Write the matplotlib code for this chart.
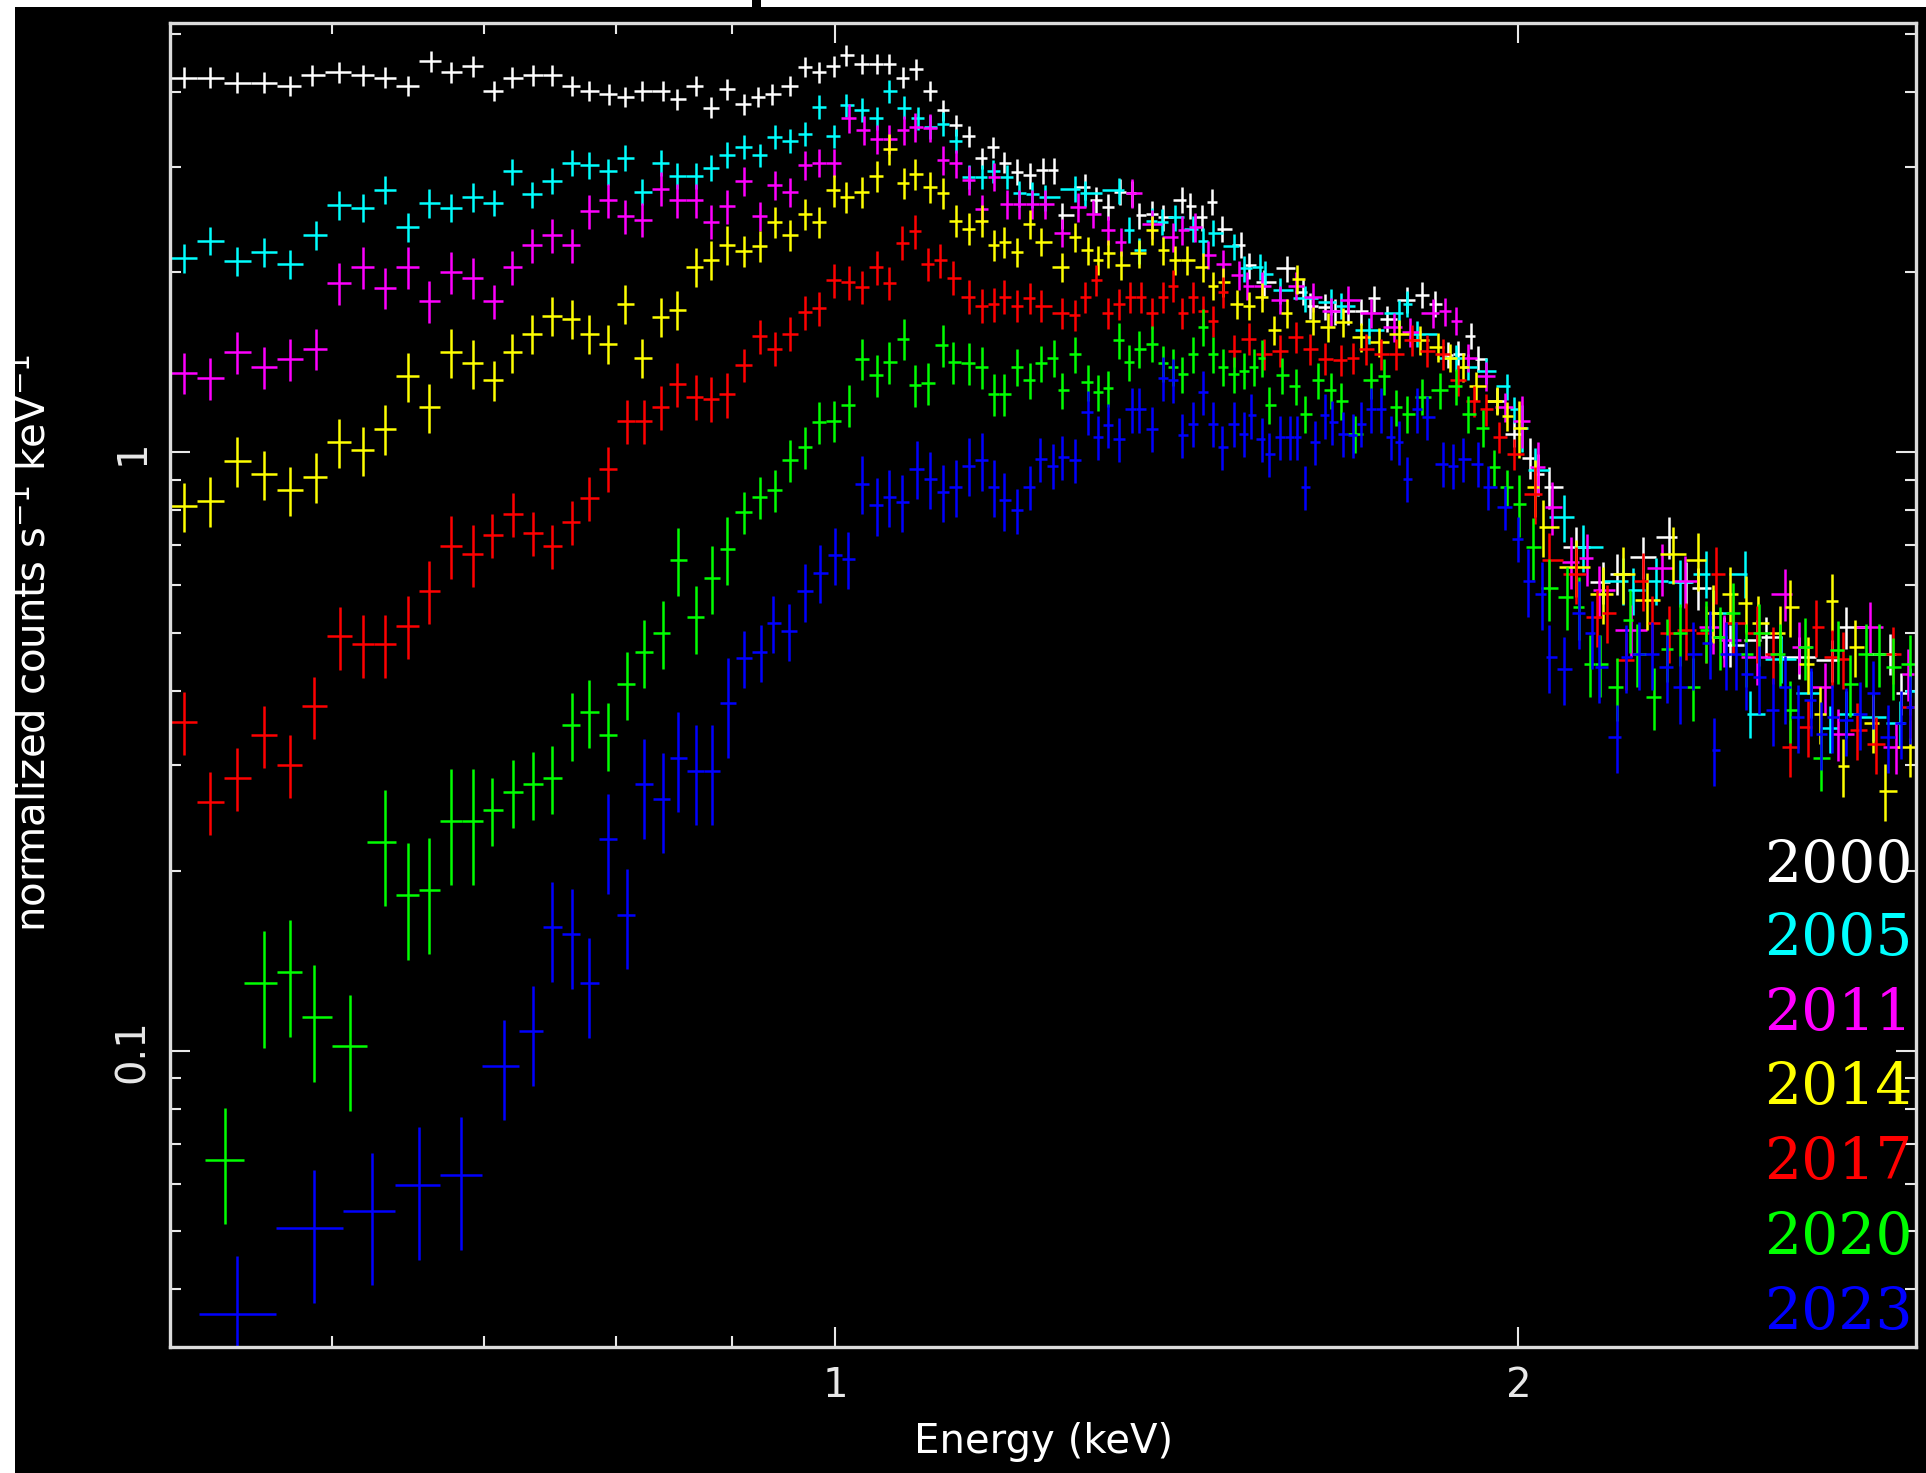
import numpy as np
import matplotlib
matplotlib.use('Agg')
import matplotlib.pyplot as plt
from matplotlib.patches import Rectangle
from matplotlib.ticker import FixedLocator, NullFormatter

plt.rcParams['font.family'] = ['DejaVu Sans']

# energies (keV) and normalized counts s^-1 keV^-1
white_e = [0.516, 0.530, 0.545, 0.560, 0.575, 0.588, 0.604, 0.619, 0.633, 0.648,
           0.663, 0.677, 0.692, 0.707, 0.720, 0.736, 0.750, 0.765, 0.779, 0.795,
           0.808, 0.822, 0.839, 0.851, 0.868, 0.881, 0.896, 0.911, 0.924, 0.938,
           0.955, 0.970, 0.983, 0.998, 1.011, 1.027, 1.043, 1.056, 1.071, 1.085,
           1.101, 1.115, 1.130, 1.145, 1.160, 1.173, 1.187, 1.202, 1.218, 1.234,
           1.248, 1.259, 1.288, 1.302, 1.319, 1.335, 1.351, 1.361, 1.379, 1.395,
           1.422, 1.433, 1.451, 1.465, 1.481, 1.509, 1.521, 1.545, 1.582, 1.607,
           1.619, 1.644, 1.661, 1.683, 1.705, 1.727, 1.750, 1.786, 1.814, 1.838,
           1.862, 1.881, 1.906, 1.920, 1.956, 1.991, 2.023, 2.04, 2.064, 2.121,
           2.18, 2.21, 2.27, 2.33, 2.37, 2.40, 2.465, 2.48, 2.547,
           2.57, 2.66, 2.75, 2.79, 2.915, 2.95]
white_v = [4.23, 4.23, 4.15, 4.15, 4.10, 4.27, 4.32, 4.27, 4.23, 4.10,
           4.51, 4.32, 4.42, 4.02, 4.23, 4.27, 4.27, 4.10, 4.02, 3.97,
           3.93, 4.02, 4.02, 3.89, 4.10, 3.77, 4.05, 3.82, 3.93, 3.97,
           4.10, 4.41, 4.32, 4.42, 4.61, 4.46, 4.46, 4.46, 4.23, 4.37,
           4.02, 3.73, 3.52, 3.375, 3.10, 3.24, 3.05, 2.94, 2.905, 2.96,
           2.96, 2.49, 2.777, 2.64, 2.57, 2.726, 2.71, 2.49, 2.505, 2.47,
           2.64, 2.58, 2.47, 2.62, 2.366, 2.22, 2.055, 1.925, 2.03, 1.855,
           1.76, 1.75, 1.72, 1.72, 1.72, 1.81, 1.67, 1.80, 1.835, 1.77,
           1.455, 1.46, 1.565, 1.435, 1.22, 1.075, 0.98, 0.92, 0.875, 0.695,
           0.607, 0.627, 0.669, 0.722, 0.607, 0.593, 0.492, 0.476, 0.486,
           0.492, 0.455, 0.45, 0.51, 0.461, 0.396]

cyan_e = [0.516, 0.530, 0.545, 0.560, 0.575, 0.590, 0.604, 0.619, 0.633, 0.648,
          0.662, 0.677, 0.692, 0.707, 0.720, 0.735, 0.750, 0.765, 0.779, 0.794,
          0.808, 0.822, 0.838, 0.851, 0.868, 0.881, 0.896, 0.911, 0.926, 0.940,
          0.955, 0.970, 0.983, 0.998, 1.011, 1.027, 1.043, 1.056, 1.072, 1.087,
          1.101, 1.115, 1.130, 1.145, 1.160, 1.173, 1.190, 1.205, 1.221, 1.237,
          1.275, 1.288, 1.333, 1.347, 1.361, 1.379, 1.393, 1.411, 1.437, 1.452,
          1.467, 1.498, 1.514, 1.538, 1.547, 1.570, 1.611, 1.653, 1.670, 1.718,
          1.772, 1.786, 1.805, 1.877, 1.901, 1.936, 1.976, 1.991, 2.007, 2.033,
          2.095, 2.136, 2.224, 2.247, 2.30, 2.356, 2.42, 2.437, 2.516, 2.53,
          2.61, 2.69, 2.743, 2.79, 2.866, 2.945, 2.975]
cyan_v = [2.11, 2.26, 2.09, 2.16, 2.065, 2.31, 2.59, 2.565, 2.75, 2.38,
          2.61, 2.565, 2.67, 2.61, 2.95, 2.70, 2.84, 3.05, 3.02, 2.95,
          3.11, 2.726, 3.05, 2.90, 2.90, 2.99, 3.14, 3.24, 3.14, 3.37,
          3.32, 3.41, 3.78, 3.375, 3.80, 3.74, 3.62, 4.01, 3.77, 3.62,
          3.50, 3.54, 3.32, 2.89, 2.89, 2.95, 2.89, 2.71, 2.70, 2.67,
          2.76, 2.71, 2.74, 2.355, 2.175, 2.44, 2.43, 2.47, 2.366, 2.26,
          2.33, 2.21, 2.03, 2.04, 1.99, 1.865, 1.81, 1.785, 1.76, 1.60,
          1.71, 1.77, 1.58, 1.44, 1.39, 1.37, 1.29, 1.18, 1.10, 0.933,
          0.78, 0.695, 0.611, 0.588, 0.611, 0.607, 0.627, 0.54, 0.627, 0.366,
          0.452, 0.396, 0.346, 0.366, 0.362, 0.353, 0.40]

mag_e = [0.516, 0.530, 0.545, 0.560, 0.575, 0.590, 0.604, 0.619, 0.633, 0.648,
         0.662, 0.677, 0.692, 0.707, 0.720, 0.735, 0.750, 0.765, 0.779, 0.794,
         0.808, 0.822, 0.838, 0.851, 0.868, 0.881, 0.896, 0.911, 0.926, 0.940,
         0.955, 0.970, 0.983, 0.998, 1.014, 1.029, 1.043, 1.056, 1.072, 1.084,
         1.101, 1.115, 1.130, 1.145, 1.160, 1.174, 1.190, 1.205, 1.221, 1.237,
         1.259, 1.279, 1.299, 1.319, 1.336, 1.351, 1.379, 1.408, 1.422, 1.440,
         1.460, 1.482, 1.506, 1.518, 1.541, 1.570, 1.595, 1.623, 1.653, 1.683,
         1.722, 1.763, 1.791, 1.833, 1.857, 1.877, 1.901, 1.936, 1.972, 2.007,
         2.04, 2.07, 2.11, 2.143, 2.17, 2.243, 2.313, 2.368, 2.437, 2.465,
         2.547, 2.62, 2.66, 2.73, 2.766, 2.856, 2.935, 2.97]
mag_v = [1.359, 1.33, 1.47, 1.39, 1.43, 1.49, 1.92, 2.04, 1.885, 2.04,
         1.79, 2.00, 1.96, 1.79, 2.04, 2.22, 2.305, 2.22, 2.53, 2.64,
         2.48, 2.45, 2.76, 2.64, 2.64, 2.43, 2.58, 2.84, 2.48, 2.80,
         2.726, 3.02, 3.05, 3.05, 3.62, 3.46, 3.34, 3.34, 3.46, 3.50,
         3.49, 3.08, 3.04, 2.85, 2.55, 2.89, 2.60, 2.60, 2.60, 2.60,
         2.33, 2.57, 2.505, 2.35, 2.25, 2.71, 2.41, 2.29, 2.35, 2.38,
         2.14, 2.065, 1.98, 1.90, 1.90, 1.80, 1.90, 1.82, 1.72, 1.80,
         1.71, 1.62, 1.59, 1.71, 1.72, 1.66, 1.44, 1.34, 1.19, 1.13,
         0.945, 0.81, 0.657, 0.665, 0.588, 0.505, 0.64, 0.611, 0.511, 0.486,
         0.455, 0.58, 0.473, 0.405, 0.339, 0.511, 0.322, 0.427]

yel_e = [0.516, 0.530, 0.545, 0.560, 0.575, 0.590, 0.604, 0.619, 0.633, 0.648,
         0.662, 0.677, 0.692, 0.707, 0.720, 0.735, 0.750, 0.765, 0.779, 0.794,
         0.808, 0.822, 0.838, 0.851, 0.868, 0.881, 0.896, 0.911, 0.926, 0.940,
         0.955, 0.970, 0.983, 0.998, 1.011, 1.027, 1.043, 1.056, 1.072, 1.084,
         1.101, 1.115, 1.130, 1.145, 1.160, 1.174, 1.187, 1.202, 1.218, 1.232,
         1.259, 1.275, 1.292, 1.305, 1.319, 1.336, 1.361, 1.379, 1.395, 1.411,
         1.429, 1.452, 1.467, 1.482, 1.503, 1.521, 1.541, 1.561, 1.582, 1.598,
         1.623, 1.648, 1.674, 1.705, 1.736, 1.772, 1.809, 1.843, 1.866, 1.891,
         1.915, 1.956, 1.976, 2.002, 2.033, 2.05, 2.12, 2.18, 2.224, 2.278,
         2.34, 2.40, 2.437, 2.48, 2.52, 2.55, 2.607, 2.635, 2.683, 2.715,
         2.75, 2.78, 2.814, 2.866, 2.90, 2.975]
yel_v = [0.813, 0.83, 0.968, 0.92, 0.865, 0.91, 1.04, 1.008, 1.096, 1.34,
         1.19, 1.47, 1.41, 1.32, 1.47, 1.58, 1.69, 1.67, 1.58, 1.52,
         1.77, 1.44, 1.685, 1.73, 2.04, 2.10, 2.22, 2.17, 2.21, 2.43,
         2.305, 2.505, 2.43, 2.74, 2.67, 2.726, 2.90, 3.21, 2.82, 2.92,
         2.78, 2.71, 2.44, 2.366, 2.44, 2.22, 2.25, 2.16, 2.41, 2.25,
         2.04, 2.29, 2.175, 2.095, 2.15, 2.055, 2.15, 2.35, 2.175, 2.095,
         2.095, 2.04, 1.90, 1.925, 1.77, 1.76, 1.82, 1.60, 1.71, 1.95,
         1.66, 1.62, 1.65, 1.56, 1.53, 1.58, 1.54, 1.50, 1.44, 1.39,
         1.29, 1.22, 1.15, 1.10, 0.875, 0.751, 0.644, 0.58, 0.627, 0.567,
         0.677, 0.66, 0.54, 0.58, 0.56, 0.518, 0.499, 0.552, 0.443, 0.366,
         0.565, 0.299, 0.473, 0.353, 0.272, 0.322]

red_e = [0.516, 0.530, 0.545, 0.560, 0.575, 0.589, 0.605, 0.619, 0.633, 0.648,
         0.662, 0.677, 0.692, 0.706, 0.721, 0.736, 0.750, 0.765, 0.779, 0.794,
         0.809, 0.823, 0.838, 0.851, 0.868, 0.881, 0.896, 0.911, 0.926, 0.940,
         0.955, 0.970, 0.983, 0.998, 1.014, 1.027, 1.043, 1.056, 1.070, 1.084,
         1.098, 1.112, 1.127, 1.145, 1.160, 1.174, 1.187, 1.202, 1.218, 1.232,
         1.259, 1.275, 1.288, 1.303, 1.319, 1.333, 1.349, 1.363, 1.379, 1.395,
         1.408, 1.422, 1.437, 1.452, 1.467, 1.482, 1.498, 1.521, 1.545, 1.570,
         1.595, 1.619, 1.644, 1.670, 1.691, 1.713, 1.740, 1.767, 1.795, 1.823,
         1.852, 1.881, 1.911, 1.936, 1.961, 1.991, 2.033, 2.064, 2.121, 2.165,
         2.187, 2.23, 2.27, 2.29, 2.33, 2.37, 2.42, 2.444, 2.487, 2.547,
         2.59, 2.635, 2.683, 2.706, 2.75, 2.78, 2.82, 2.875, 2.925, 2.975]
red_v = [0.355, 0.261, 0.286, 0.337, 0.301, 0.377, 0.493, 0.478, 0.478, 0.513,
         0.587, 0.698, 0.676, 0.727, 0.79, 0.734, 0.698, 0.765, 0.839, 0.94,
         1.128, 1.128, 1.19, 1.30, 1.24, 1.23, 1.25, 1.40, 1.565, 1.49,
         1.58, 1.715, 1.74, 1.94, 1.925, 1.89, 2.04, 1.92, 2.24, 2.34,
         2.065, 2.095, 1.96, 1.82, 1.76, 1.77, 1.82, 1.76, 1.81, 1.76,
         1.71, 1.695, 1.82, 1.94, 1.71, 1.77, 1.82, 1.82, 1.71, 1.82,
         1.90, 1.71, 1.82, 1.72, 1.66, 1.855, 1.48, 1.55, 1.46, 1.48,
         1.56, 1.49, 1.435, 1.425, 1.44, 1.49, 1.46, 1.46, 1.54, 1.48,
         1.46, 1.32, 1.22, 1.18, 1.06, 0.995, 0.853, 0.66, 0.627, 0.531,
         0.54, 0.45, 0.611, 0.518, 0.499, 0.505, 0.499, 0.627, 0.518, 0.499,
         0.461, 0.322, 0.348, 0.511, 0.455, 0.452, 0.344, 0.326, 0.461, 0.375]

grn_e = [0.538, 0.560, 0.575, 0.589, 0.611, 0.633, 0.648, 0.662, 0.677, 0.692,
         0.706, 0.721, 0.736, 0.750, 0.765, 0.779, 0.794, 0.809, 0.823, 0.839,
         0.852, 0.868, 0.882, 0.896, 0.911, 0.926, 0.940, 0.955, 0.970, 0.983,
         0.998, 1.014, 1.027, 1.043, 1.056, 1.072, 1.084, 1.098, 1.115, 1.127,
         1.145, 1.160, 1.174, 1.187, 1.202, 1.218, 1.232, 1.248, 1.259, 1.275,
         1.292, 1.305, 1.319, 1.333, 1.347, 1.361, 1.379, 1.395, 1.408, 1.422,
         1.437, 1.452, 1.467, 1.482, 1.498, 1.514, 1.529, 1.541, 1.553, 1.573,
         1.595, 1.611, 1.632, 1.653, 1.670, 1.695, 1.722, 1.745, 1.767, 1.786,
         1.814, 1.847, 1.877, 1.901, 1.930, 1.951, 1.976, 2.002, 2.03, 2.064,
         2.10, 2.127, 2.15, 2.172, 2.21, 2.24, 2.255, 2.296, 2.325, 2.356,
         2.388, 2.42, 2.453, 2.487, 2.52, 2.554, 2.607, 2.635, 2.675, 2.72,
         2.766, 2.80, 2.846, 2.885, 2.925, 2.975]
grn_v = [0.0658, 0.1299, 0.1354, 0.1139, 0.1018, 0.2237, 0.1822, 0.186, 0.2423, 0.2423,
         0.2526, 0.2706, 0.279, 0.286, 0.351, 0.369, 0.337, 0.41, 0.464, 0.499,
         0.661, 0.53, 0.617, 0.69, 0.795, 0.842, 0.865, 0.97, 1.02, 1.124,
         1.13, 1.20, 1.435, 1.345, 1.415, 1.55, 1.295, 1.305, 1.51, 1.415,
         1.41, 1.39, 1.25, 1.25, 1.39, 1.32, 1.41, 1.44, 1.27, 1.46,
         1.31, 1.26, 1.28, 1.54, 1.415, 1.49, 1.52, 1.41, 1.39, 1.35,
         1.46, 1.62, 1.46, 1.39, 1.35, 1.37, 1.39, 1.44, 1.20, 1.345,
         1.29, 1.16, 1.32, 1.27, 1.22, 1.075, 1.32, 1.34, 1.19, 1.16,
         1.24, 1.27, 1.29, 1.16, 1.10, 0.945, 0.875, 0.82, 0.695, 0.593,
         0.574, 0.552, 0.443, 0.443, 0.405, 0.525, 0.461, 0.39, 0.47, 0.499,
         0.405, 0.505, 0.492, 0.54, 0.461, 0.499, 0.461, 0.371, 0.473, 0.309,
         0.467, 0.41, 0.461, 0.461, 0.438, 0.443]

blu_e = [0.545, 0.589, 0.625, 0.655, 0.684, 0.714, 0.736, 0.750, 0.765, 0.779,
         0.794, 0.809, 0.823, 0.839, 0.852, 0.868, 0.882, 0.897, 0.911, 0.927,
         0.939, 0.954, 0.970, 0.984, 1.000, 1.013, 1.027, 1.043, 1.056, 1.070,
         1.086, 1.101, 1.115, 1.130, 1.145, 1.160, 1.174, 1.187, 1.202, 1.218,
         1.231, 1.247, 1.259, 1.275, 1.292, 1.305, 1.319, 1.333, 1.351, 1.361,
         1.379, 1.395, 1.408, 1.422, 1.437, 1.452, 1.467, 1.481, 1.498, 1.514,
         1.525, 1.541, 1.553, 1.570, 1.586, 1.598, 1.611, 1.627, 1.644, 1.656,
         1.674, 1.691, 1.705, 1.722, 1.740, 1.757, 1.772, 1.786, 1.805, 1.823,
         1.852, 1.872, 1.891, 1.920, 1.940, 1.972, 2.0, 2.02, 2.048, 2.064,
         2.095, 2.127, 2.154, 2.17, 2.21, 2.23, 2.26, 2.29, 2.325, 2.356,
         2.388, 2.43, 2.44, 2.47, 2.495, 2.52, 2.554, 2.59, 2.62, 2.655,
         2.69, 2.72, 2.75, 2.79, 2.83, 2.866, 2.91, 2.95, 2.975]
blu_v = [0.0363, 0.0506, 0.0541, 0.0597, 0.0621, 0.0945, 0.108, 0.161, 0.1567, 0.130,
         0.226, 0.169, 0.279, 0.264, 0.309, 0.294, 0.294, 0.381, 0.454, 0.464,
         0.519, 0.503, 0.586, 0.63, 0.674, 0.664, 0.887, 0.816, 0.842, 0.826,
         0.94, 0.904, 0.859, 0.875, 0.951, 0.97, 0.875, 0.832, 0.80, 0.875,
         0.976, 0.951, 0.983, 0.97, 1.168, 1.06, 1.11, 1.054, 1.18, 1.18,
         1.096, 1.33, 1.32, 1.068, 1.117, 1.26, 1.117, 1.02, 1.117, 1.075,
         1.153, 1.054, 0.995, 1.06, 1.06, 1.06, 0.875, 1.04, 1.153, 1.124,
         1.075, 1.068, 1.117, 1.18, 1.18, 1.06, 1.04, 0.904, 1.18, 1.146,
         0.958, 0.951, 0.976, 0.958, 0.875, 0.81, 0.718, 0.611, 0.58, 0.455,
         0.435, 0.54, 0.499, 0.438, 0.335, 0.455, 0.461, 0.461, 0.438, 0.405,
         0.461, 0.48, 0.318, 0.461, 0.461, 0.427, 0.421, 0.371, 0.405, 0.362,
         0.386, 0.339, 0.362, 0.357, 0.366, 0.396, 0.335, 0.353, 0.375]

# relative error size read per energy band: <0.7, 0.7-0.9, 0.9-1.2, 1.2-2, >2 keV
err_edges = [0.7, 0.9, 1.2, 2.0]
white_frac = [0.04, 0.04, 0.04, 0.05, 0.08]
cyan_frac = [0.055, 0.05, 0.045, 0.05, 0.09]
mag_frac = [0.08, 0.065, 0.055, 0.055, 0.10]
yel_frac = [0.095, 0.075, 0.06, 0.055, 0.11]
red_frac = [0.12, 0.085, 0.065, 0.06, 0.11]
grn_frac = [0.22, 0.13, 0.08, 0.07, 0.12]
blu_frac = [0.25, 0.19, 0.11, 0.085, 0.13]

years = ['2000', '2005', '2011', '2014', '2017', '2020', '2023']
colors = ['#ffffff', '#00ffff', '#ff00ff', '#ffff00', '#ff0000', '#00ff00', '#0000ff']
energies = [white_e, cyan_e, mag_e, yel_e, red_e, grn_e, blu_e]
values = [white_v, cyan_v, mag_v, yel_v, red_v, grn_v, blu_v]
fracs = [white_frac, cyan_frac, mag_frac, yel_frac, red_frac, grn_frac, blu_frac]


def bin_halfwidths(e):
    # contiguous bins: edges halfway (in log) between neighbouring channels
    le = np.log10(e)
    mid = (le[1:] + le[:-1]) / 2
    lo = np.concatenate([[2 * le[0] - mid[0]], mid])
    hi = np.concatenate([mid, [2 * le[-1] - mid[-1]]])
    return e - 10 ** lo, 10 ** hi - e


fig = plt.figure(figsize=(19.26, 14.73), dpi=100)
fig.patch.set_facecolor('white')
fig.add_artist(Rectangle((15 / 1926, 0), 1, 1466 / 1473, transform=fig.transFigure,
                         facecolor='black', edgecolor='none', zorder=0))
fig.add_artist(Rectangle((752 / 1926, 1466 / 1473), 9 / 1926, 7 / 1473,
                         transform=fig.transFigure, facecolor='black',
                         edgecolor='none', zorder=0))

ax = fig.add_axes([0.08801, 0.08554, 0.9068, 0.89885])
ax.set_facecolor('black')
ax.set_xscale('log')
ax.set_yscale('log')

for e, v, fr, c in zip(energies, values, fracs, colors):
    e = np.array(e)
    v = np.array(v)
    xlo, xhi = bin_halfwidths(e)
    err = v * np.array(fr)[np.searchsorted(err_edges, e)]
    ax.errorbar(e, v, xerr=[xlo, xhi], yerr=err, fmt='none', ecolor=c,
                elinewidth=1.8, capsize=0)

ax.set_xlim(0.5087, 2.994)
ax.set_ylim(0.03201, 5.219)

ax.xaxis.set_major_locator(FixedLocator([1, 2]))
ax.xaxis.set_minor_locator(FixedLocator([0.6, 0.7, 0.8, 0.9, 3]))
ax.xaxis.set_minor_formatter(NullFormatter())
ax.set_xticklabels(['1', '2'])
ax.yaxis.set_major_locator(FixedLocator([0.1, 1]))
ax.yaxis.set_minor_locator(FixedLocator([0.04, 0.05, 0.06, 0.07, 0.08, 0.09,
                                         0.2, 0.3, 0.4, 0.5, 0.6, 0.7, 0.8, 0.9,
                                         2, 3, 4, 5]))
ax.yaxis.set_minor_formatter(NullFormatter())
ax.set_yticklabels(['0.1', '1'], rotation=90, va='center')

ax.tick_params(which='both', direction='in', top=True, right=True,
               colors='#e8e8e8', width=1.5, labelsize=29)
ax.tick_params(which='major', length=14.5)
ax.tick_params(which='minor', length=8)
ax.tick_params(axis='x', which='major', pad=14)
ax.tick_params(axis='y', which='major', pad=12)
for sp in ax.spines.values():
    sp.set_color('#dcdcdc')
    sp.set_linewidth(2.4)

fig.text(0.542, 0.021, 'Energy (keV)', color='white', fontsize=29,
         ha='center', va='center')
fig.text(0.0177, 0.5635, r'normalized counts s$^{-1}$ keV$^{-1}$', color='white',
         fontsize=29, rotation=90, ha='center', va='center')

# year labels at the right edge
label_y = [0.3512, 0.2961, 0.2394, 0.1835, 0.1269, 0.0702, 0.0139]
for yr, c, yy in zip(years, colors, label_y):
    ax.text(0.998, yy, yr, transform=ax.transAxes, ha='right', va='baseline',
            color=c, fontsize=42, family='DejaVu Serif', zorder=5)

fig.savefig('out.png', dpi=100, facecolor=fig.get_facecolor())
